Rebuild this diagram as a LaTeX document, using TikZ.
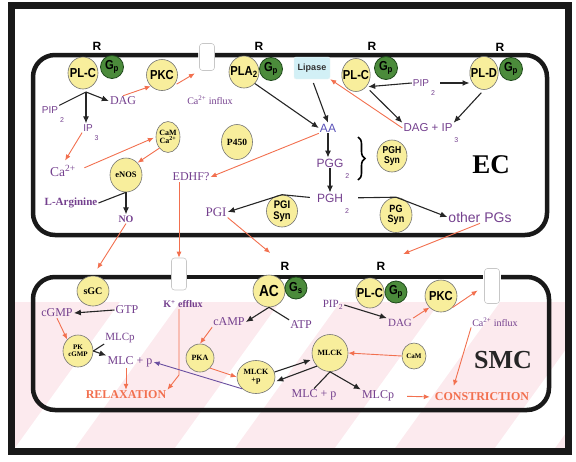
\documentclass[tikz,border=0pt]{standalone}
\usepackage{fontspec}
\setmainfont{Liberation Serif}
\setsansfont{Liberation Sans}
\newfontfamily\narrowsf{Liberation Sans}[FakeStretch=0.86]
\usetikzlibrary{arrows.meta,positioning,shapes.geometric,decorations.pathreplacing,calc}
\definecolor{enzyellow}{HTML}{F8EE9C}
\definecolor{gpgreen}{HTML}{4B8B3B}
\definecolor{gpdark}{HTML}{1F4A1C}
\definecolor{labpurple}{HTML}{74408E}
\definecolor{aablue}{HTML}{5A52B8}
\definecolor{mlcpurple}{HTML}{6A4FA0}
\definecolor{arrorange}{HTML}{F2704F}
\definecolor{bgpink}{HTML}{FCEAEE}
\definecolor{lipblue}{HTML}{D2F0F6}
\newcommand{\fsz}[1]{\fontsize{#1}{#1}\selectfont}
\newcommand{\lowsub}[1]{\rlap{\hspace{2pt}\smash{\raisebox{-1.8ex}{\fsz{7}#1}}}}

\begin{document}
\begin{tikzpicture}[
  x=1pt, y=-1pt,
  sz/.style 2 args={minimum width=#1pt,minimum height=#2pt},
  enz/.style={ellipse,draw=black!55,line width=0.6pt,fill=enzyellow,inner xsep=-3pt,inner ysep=-2pt,align=center,font=\narrowsf\bfseries\fsz{13}},
  enzr/.style={enz,font=\rmfamily\bfseries\fsz{#1}},
  enzs/.style={enz,font=\narrowsf\bfseries\fsz{#1}},
  gprot/.style={circle,draw=gpdark,line width=0.8pt,fill=gpgreen,minimum size=23pt,inner sep=0pt,font=\narrowsf\bfseries\fsz{13}},
  rlab/.style={inner sep=1pt,font=\sffamily\bfseries\fsz{12}},
  serlab/.style={text=labpurple,inner sep=1pt,font=\rmfamily\fsz{#1}},
  serbold/.style={text=labpurple,inner sep=1pt,font=\rmfamily\bfseries\fsz{#1}},
  sanlab/.style={text=labpurple,inner sep=1pt,font=\sffamily\fsz{#1}},
  outcome/.style={text=arrorange,inner sep=1pt,font=\rmfamily\bfseries\fsz{12}},
  celllab/.style={inner sep=0pt,font=\rmfamily\bfseries\fsz{27}},
  chan/.style={draw=black!22,line width=0.6pt,fill=white,rounded corners=3pt,minimum width=15pt,inner sep=0pt},
  membrane/.style={draw=black!90,line width=4.5pt,rounded corners=22pt},
  blk/.style={draw=black!85,line width=1.1pt,-{Latex[length=7pt,width=6pt]}},
  blkline/.style={draw=black!85,line width=1.1pt},
  org/.style={draw=arrorange,line width=0.9pt,-{Latex[length=6pt,width=5pt]}},
  purp/.style={draw=mlcpurple,line width=0.9pt,-{Latex[length=6pt,width=5pt]}}
]
  \useasboundingbox (0,0) rectangle (576,461);
  \begin{scope}
    \clip (15,302) rectangle (565,448);
    \fill[bgpink] (15,302) rectangle (565,448);
    \foreach \c in {15,175,335,495}
      \fill[white] (\c,448) -- (\c+60,448) -- (\c+165,302) -- (\c+105,302) -- cycle;
  \end{scope}
  \draw[line width=7pt,black!90] (11,5) rectangle (568,451);

  \draw[membrane] (215,55) -- (547,55) -- (547,235) -- (33,235) -- (33,55) -- (198,55);
  \draw[membrane] (171,277) -- (33,277) -- (33,410) -- (549,410) -- (549,277) -- (501,277);
  \draw[membrane] (187,277) -- (483,277);
  \node (chan1) [chan,minimum height=27pt] at (207,57) {};
  \node (chank) [chan,minimum height=32pt] at (179,274) {};
  \node (chanca) [chan,minimum height=35pt] at (492,286) {};

  \node (ec) [celllab] at (491,165) {EC};
  \node (smc) [celllab,text=black!85,font=\rmfamily\bfseries\fsz{26}] at (503,360) {SMC};

  \node (r1) [rlab] at (97,46) {R};
  \node (r2) [rlab] at (259,46) {R};
  \node (r3) [rlab] at (372,46) {R};
  \node (r4) [rlab] at (500,47) {R};
  \node (r5) [rlab] at (285,266) {R};
  \node (r6) [rlab] at (381,266) {R};

  \node (plc1) [enz,sz={30}{32}] at (83,73) {PL-C};
  \node (gp1) [gprot] at (112,67) {G\textsubscript{p}};
  \node (pkc1) [enz,sz={31}{31}] at (162,75) {PKC};
  \node (pla2) [enz,sz={28}{32}] at (244,72) {PLA\textsubscript{2}};
  \node (gp2) [gprot] at (271,69) {G\textsubscript{p}};
  \node (lipase) [fill=lipblue,draw=lipblue!80!black!20,rounded corners=2pt,sz={36}{22},inner sep=0pt,font=\sffamily\bfseries\fsz{9},text=black!80] at (312,68) {Lipase};
  \node (plc2) [enz,sz={28}{33}] at (356,75) {PL-C};
  \node (gp3) [gprot] at (386,68) {G\textsubscript{p}};
  \node (pld) [enz,sz={28}{33}] at (484,73) {PL-D};
  \node (gp4) [gprot] at (511,69) {G\textsubscript{p}};

  \node (pip1) [sanlab=10] at (50,110) {PIP\lowsub{2}};
  \node (dag1) [serlab=12] at (123,101) {DAG};
  \node (ip1) [sanlab=10] at (88,128) {IP\lowsub{3}};
  \node (ca1) [serlab=13.5] at (63,171) {Ca\textsuperscript{2+}};
  \node (cam1) [enzr=8,sz={24}{31}] at (168,137) {CaM\\Ca\textsuperscript{2+}};
  \node (enos) [enzr=8.5,sz={32}{34}] at (126,175) {eNOS};
  \node (larg) [serbold=11] at (71,203) {L-Arginine};
  \node (no) [serbold=10] at (126,219) {NO};
  \node (ca0) [serlab=10] at (210,100) {Ca\textsuperscript{2+} influx};
  \node (p450) [enzr=9.5,sz={31}{35}] at (237,142) {P450};
  \node (edhf) [serlab=12] at (191,177) {EDHF?};
  \node (aa) [sanlab=12,text=aablue] at (328,128) {AA};
  \node (pgg) [sanlab=12] at (330,163) {PGG\lowsub{2}};
  \node (pgh) [sanlab=12] at (330,198) {PGH\lowsub{2}};
  \node (pghsyn) [enzs=10,sz={30}{32}] at (392,156) {PGH\\Syn};
  \node (pgisyn) [enzs=11,sz={31}{32}] at (282,211) {PGI\\Syn};
  \node (pgsyn) [enzs=10.5,sz={32}{35}] at (396,215) {PG\\Syn};
  \node (pgi) [serlab=13] at (216,212) {PGI};
  \node (others) [sanlab=14] at (480,217) {other PGs};
  \node (pip2) [sanlab=10] at (421,83) {PIP\lowsub{2}};
  \node (dagip) [sanlab=11.5] at (428,128) {DAG + IP\lowsub{3}};
  \draw[decorate,decoration={brace,amplitude=7pt},line width=1.6pt] (358,137) -- (358,180);

  \node (sgc) [enzr=10,sz={32}{30}] at (93,291) {sGC};
  \node (gtp) [serlab=12] at (127,310) {GTP};
  \node (cgmp) [serlab=12] at (57,313) {cGMP};
  \node (pkg) [enzr=7,sz={30}{32}] at (78,351) {PK\\cGMP};
  \node (mlcp1) [serlab=11] at (120,338) {MLCp};
  \node (mlc1) [serlab=12] at (130,362) {MLC + p};
  \node (relax) [outcome] at (126,395) {RELAXATION};
  \node (kef) [serbold=10] at (183,304) {K\textsuperscript{+} efflux};
  \coordinate (kbend) at (179,375);
  \node (ac) [enzs=16,sz={32}{32}] at (269,291) {AC};
  \node (gs) [gprot,minimum size=22pt] at (296,288) {G\textsubscript{s}};
  \node (camp) [serlab=12] at (229,322) {cAMP};
  \node (atp) [serlab=12] at (301,325) {ATP};
  \node (pka) [enzr=8,sz={28}{28}] at (200,358) {PKA};
  \node (mlckp) [enzr=8,sz={38}{33}] at (256,377) {MLCK\\+p};
  \node (mlck) [enzr=8,sz={36}{37}] at (330,353) {MLCK};
  \node (mlc2) [serlab=12] at (314,395) {MLC + p};
  \node (mlcp2) [serlab=12] at (378,396) {MLCp};
  \node (constr) [outcome] at (482,397) {CONSTRICTION};
  \node (cam2) [enzr=7,sz={24}{26}] at (414,356) {CaM};
  \node (plc3) [enz,sz={28}{30}] at (370,293) {PL-C};
  \node (gp5) [gprot,minimum size=22pt] at (396,292) {G\textsubscript{p}};
  \node (pkc2) [enz,sz={32}{32}] at (441,296) {PKC};
  \node (pip3) [serlab=11] at (333,305) {PIP\textsubscript{2}};
  \node (dag2) [serlab=11] at (400,323) {DAG};
  \node (ca2) [serlab=10] at (495,322) {Ca\textsuperscript{2+} influx};

  \coordinate (split1) at (86,92);
  \draw[blkline] (pip1.north east) -- (split1);
  \draw[blk] (split1) -- (dag1.west);
  \draw[blk] (split1) -- (split1 |- ip1.north);
  \draw[org] (dag1.north) -- (pkc1.south west);
  \draw[org,shorten <=4pt,shorten >=5pt] (pkc1.south east) -- (chan1.south west);
  \draw[org,shorten >=4pt] (ip1.south west) -- (ca1.north);
  \draw[org,shorten <=8pt,shorten >=2pt] (ca1.east) -- (cam1.west);
  \draw[org] (cam1.south west) -- (enos.north east);
  \draw[blkline] (larg.east) -- (enos.south);
  \draw[blk] (enos.south) -- (no.north);
  \draw[org,shorten >=8pt] (no.south) -- (sgc.north);
  \draw[blk,shorten <=4pt] (lipase.south) -- (aa.north);
  \draw[blk] (pla2.south east) -- (aa.west);
  \draw[blk] (aa.south) -- (aa.south |- pgg.north);
  \draw[blk] (pgg.south) -- (pgg.south |- pgh.north);
  \draw[blk,shorten <=6pt] (pgh.west) -- (pgisyn.north) -- (pgi.east);
  \draw[blk,shorten <=14pt] (pgh.east) -- (pgsyn.north) -- (others.west);
  \draw[org] (aa.south west) -- (edhf.east);
  \draw[org] (edhf.south -| chank.north) -- (chank.north);
  \draw[org,shorten >=12pt] (pgi.south east) -- (r5.north west);
  \draw[org,shorten >=18pt] (others.south) -- (r6.north east);
  \draw[blk,shorten >=2pt] (pip2.west) -- (plc2.south east);
  \draw[blk,shorten <=10pt] (pip2.east) -- (pip2.east -| pld.west);
  \draw[blk,shorten <=5pt] (plc2.south east) -- (dagip.north west);
  \draw[blk,shorten <=4pt] (pld.south) -- (dagip.north east);
  \draw[org] (dagip.west) -- (lipase.south east);

  \draw[blk] (gtp.west) -- (cgmp.east);
  \draw[org] (cgmp.south) -- (pkg.north west);
  \draw[blkline] (mlcp1.south west) -- (pkg.east);
  \draw[blk] (pkg.east) -- (mlc1.north west);
  \draw[org] (mlc1.south -| relax.north) -- (relax.north);
  \draw[org] (kef.south -| kbend) -- (kbend) -- (relax.north east);
  \draw[purp] (mlckp.south west) -- (mlc1.east);
  \draw[blkline] (atp.north west) -- (ac.south);
  \draw[blk] (ac.south) -- (camp.east);
  \draw[org] (camp.south west) -- (pka.north);
  \draw[org] (pka.south east) -- (mlckp.west);
  \draw[blk,shorten >=2pt] (mlckp.15) -- (mlck.200);
  \draw[blk,shorten >=2pt] (mlck.225) -- (mlckp.-15);
  \draw[blkline] (mlc2.north) -- (mlck.south);
  \draw[blk] (mlck.south) -- (mlcp2.north west);
  \draw[org,shorten <=12pt,shorten >=4pt] (mlcp2.east) -- (constr.west);
  \draw[org] (cam2.west) -- (mlck.east);
  \draw[blk] (pip3.east) -- (dag2.north west);
  \draw[org] (dag2.north east) -- (pkc2.south west);
  \draw[org,shorten >=8pt] (pkc2.south east) -- (chanca.west);
  \draw[org,shorten >=6pt] (ca2.south west) -- ([xshift=-30pt]constr.north);
\end{tikzpicture}
\end{document}
